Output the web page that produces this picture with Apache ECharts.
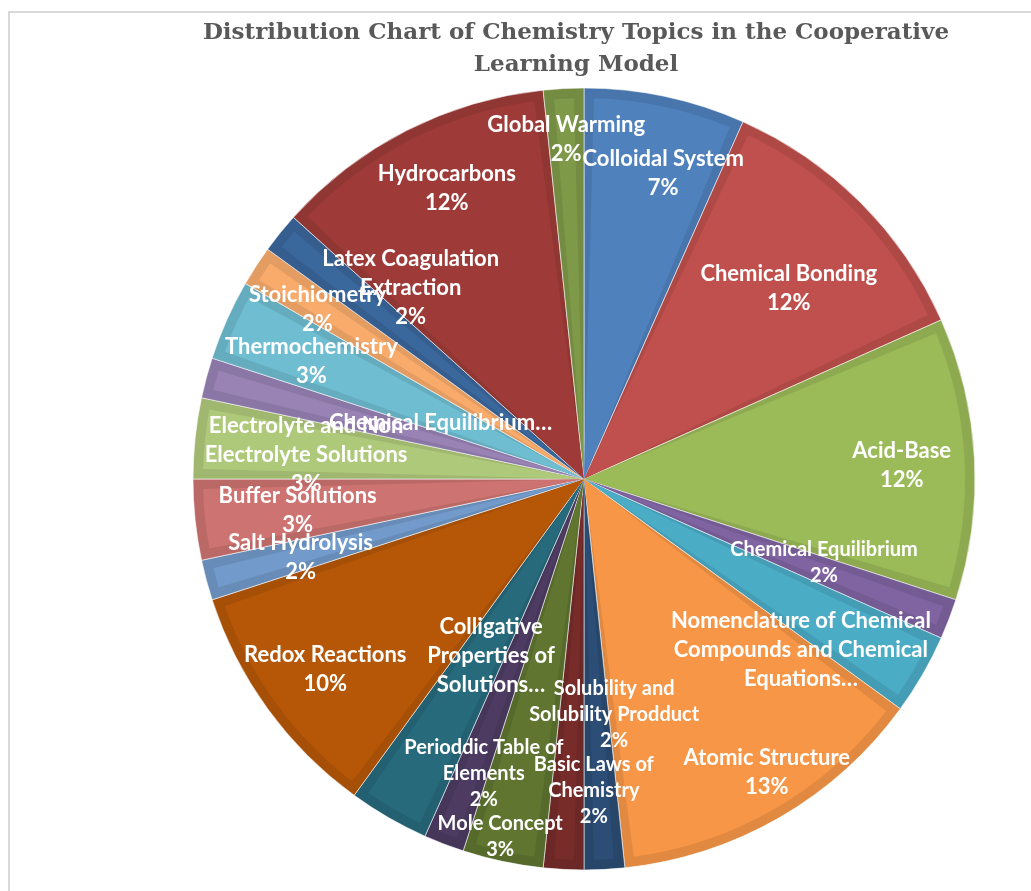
<!DOCTYPE html>
<html>
<head>
<meta charset="utf-8">
<script src="https://cdn.jsdelivr.net/npm/echarts@6/dist/echarts.min.js"></script>
<style>
html,body{margin:0;padding:0;background:#fff;}
#chart{width:1031px;height:891px;}
</style>
</head>
<body>
<div id="chart"></div>
<script>
// ---- data ----
const categories = [
  'Colloidal System', 'Chemical Bonding', 'Acid-Base', 'Chemical Equilibrium',
  'Nomenclature of Chemical Compounds and Chemical Equations…', 'Atomic Structure',
  'Solubility and Solubility Prodduct', 'Basic Laws of Chemistry', 'Mole Concept',
  'Perioddic Table of Elements', 'Colligative Properties of Solutions…', 'Redox Reactions',
  'Salt Hydrolysis', 'Buffer Solutions', 'Electrolyte and Non Electrolyte Solutions',
  'Chemical Equilibrium…', 'Thermochemistry', 'Stoichiometry',
  'Latex Coagulation Extraction', 'Hydrocarbons', 'Global Warming'
];
const values = [4, 7, 7, 1, 2, 8, 1, 1, 2, 1, 2, 6, 1, 2, 2, 1, 2, 1, 1, 7, 1];
// label text as wrapped in the chart
const labelText = [
  'Colloidal System', 'Chemical Bonding', 'Acid-Base', 'Chemical Equilibrium',
  'Nomenclature of Chemical\nCompounds and Chemical\nEquations…', 'Atomic Structure',
  'Solubility and\nSolubility Prodduct', 'Basic Laws of\nChemistry', 'Mole Concept',
  'Perioddic Table of\nElements', 'Colligative\nProperties of\nSolutions…', 'Redox Reactions',
  'Salt Hydrolysis', 'Buffer Solutions', 'Electrolyte and Non\nElectrolyte Solutions',
  'Chemical Equilibrium…', 'Thermochemistry', 'Stoichiometry',
  'Latex Coagulation\nExtraction', 'Hydrocarbons', 'Global Warming'
];
const titleText = 'Distribution Chart of Chemistry Topics in the Cooperative\nLearning Model';

// ---- styles / layout ----
const colors = [
  '#4F81BD', '#C0504D', '#9BBB59', '#8064A2', '#4BACC6', '#F79646',
  '#2C4D75', '#772C2A', '#5F7530', '#4D3B62', '#276A7C', '#B65708',
  '#729ACA', '#CD7371', '#AFC97A', '#9983B5', '#6FBDD1', '#F9AB6B',
  '#3A679C', '#9E3B38', '#7E9A48'
];
const smallLabels = [3, 6, 7, 8, 9];
// label placement: [angle clockwise from top (deg), distance from centre (px)]
const labelPolar = [
  [14.5, 316], [47.0, 280], [87.5, 318], [109.1, 254], [128.2, 276], [148.1, 346],
  [172.7, 237], [178.2, 312], [193.2, 367], [198.8, 311], [207.7, 200], [233.7, 321],
  [254.6, 294], [263.8, 288], [275.0, 279], [291.3, 154], [293.4, 297], [302.5, 316],
  [317.8, 258], [334.7, 321], [357.0, 340]
];
const CX = 584, CY = 479, R = 391, BEVEL = 10;

function shade(hex, f) {
  const n = parseInt(hex.slice(1), 16);
  const r = Math.round(((n >> 16) & 255) * f), g = Math.round(((n >> 8) & 255) * f), b = Math.round((n & 255) * f);
  return 'rgb(' + r + ',' + g + ',' + b + ')';
}

const total = values.reduce((a, b) => a + b, 0);

const baseData = categories.map((c, i) => ({
  name: c, value: values[i],
  itemStyle: { color: shade(colors[i], 0.91) }
}));
const topData = categories.map((c, i) => {
  const small = smallLabels.indexOf(i) >= 0;
  return {
    name: c, value: values[i],
    itemStyle: { color: colors[i] },
    label: { fontSize: small ? 20 : 22, lineHeight: small ? 26 : 29 }
  };
});

const chart = echarts.init(document.getElementById('chart'), null, { renderer: 'canvas' });
chart.setOption({
  animation: false,
  backgroundColor: '#ffffff',
  title: {
    text: titleText,
    left: 576,
    top: 17,
    padding: 0,
    textAlign: 'center',
    textStyle: {
      fontFamily: 'DejaVu Serif',
      fontWeight: 'bold',
      fontSize: 23,
      lineHeight: 32,
      color: '#595959'
    }
  },
  graphic: [{
    type: 'rect', z: -10, silent: true,
    shape: { x: 9, y: 12, width: 1200, height: 1000 },
    style: { fill: 'none', stroke: '#d9d9d9', lineWidth: 2 }
  }],
  series: [
    {
      type: 'pie',
      center: [CX, CY],
      radius: [0, R],
      startAngle: 90,
      clockwise: true,
      avoidLabelOverlap: false,
      silent: true,
      label: { show: false },
      labelLine: { show: false },
      itemStyle: { borderColor: 'rgba(255,255,255,0.55)', borderWidth: 1 },
      emphasis: { disabled: true },
      data: baseData
    },
    {
      type: 'pie',
      center: [CX, CY],
      radius: [0, R - BEVEL],
      startAngle: 90,
      clockwise: true,
      padAngle: 3,
      avoidLabelOverlap: false,
      silent: true,
      emphasis: { disabled: true },
      labelLine: { show: false },
      label: {
        show: true,
        position: 'inside',
        color: '#ffffff',
        fontFamily: 'Lato',
        fontWeight: 'bold',
        formatter: function (p) {
          const t = labelText[p.dataIndex];
          if (t.endsWith('…')) return t;
          return t + '\n' + Math.round(p.value / total * 100) + '%';
        }
      },
      labelLayout: function (p) {
        const lp = labelPolar[p.dataIndex];
        const a = lp[0] * Math.PI / 180;
        return {
          x: CX + lp[1] * Math.sin(a),
          y: CY - lp[1] * Math.cos(a),
          align: 'center',
          verticalAlign: 'middle'
        };
      },
      data: topData
    }
  ]
});
</script>
</body>
</html>
